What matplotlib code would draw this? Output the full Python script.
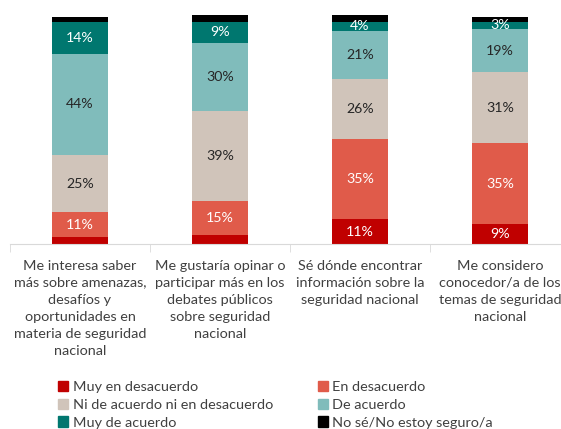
import numpy as np
import matplotlib.pyplot as plt
from matplotlib.patches import Patch

plt.rcParams['font.family'] = ['Lato', 'DejaVu Sans']

categorias = [
    "Me interesa saber\nmás sobre amenazas,\ndesafíos y\noportunidades en\nmateria de seguridad\nnacional",
    "Me gustaría opinar o\nparticipar más en los\ndebates públicos\nsobre seguridad\nnacional",
    "Sé dónde encontrar\ninformación sobre la\nseguridad nacional",
    "Me considero\nconocedor/a de los\ntemas de seguridad\nnacional",
]

series = [
    "Muy en desacuerdo",
    "En desacuerdo",
    "Ni de acuerdo ni en desacuerdo",
    "De acuerdo",
    "Muy de acuerdo",
    "No sé/No estoy seguro/a",
]

muy_desacuerdo = [3, 4, 11, 9]
en_desacuerdo = [11, 15, 35, 35]
ni_ni = [25, 39, 26, 31]
de_acuerdo = [44, 30, 21, 19]
muy_acuerdo = [14, 9, 4, 3]
no_se = [2, 3, 3, 2]

colores = ['#C00000', '#E05B4A', '#D0C4BA', '#80BCBB', '#00776F', '#000000']
color_texto = ['white', 'white', '#262626', '#262626', 'white', None]

valores = [muy_desacuerdo, en_desacuerdo, ni_ni, de_acuerdo, muy_acuerdo, no_se]

fig = plt.figure(figsize=(5.61, 4.29), dpi=100)
ax = fig.add_axes([10 / 561, 1 - 244.3 / 429, 560 / 561, (244.3 - 15) / 429])

x = np.arange(len(categorias))
base = np.zeros(len(categorias))
for serie, vals, col, tc in zip(series, valores, colores, color_texto):
    vals = np.array(vals)
    ax.bar(x, vals, 0.4, bottom=base, color=col, label=serie)
    if tc is not None:
        for xi, b, v in zip(x, base, vals):
            # los segmentos muy chicos de "Muy en desacuerdo" no llevan etiqueta
            if serie == "Muy en desacuerdo" and v < 5:
                continue
            ax.text(xi, b + v / 2, f"{v}%", ha='center', va='center',
                    color=tc, fontsize=10.2)
    base += vals

ax.set_xlim(-0.5, 3.5)
ax.set_ylim(0, 100)
ax.set_yticks([])
for s in ['top', 'right', 'left']:
    ax.spines[s].set_visible(False)
ax.spines['bottom'].set_color('#d9d9d9')

ax.set_xticks(x)
ax.set_xticklabels(categorias, fontsize=10.4, color='#404040', linespacing=1.5)
ax.tick_params(axis='x', length=0, pad=11)
ax.set_xticks(np.arange(-0.5, 4, 1), minor=True)
ax.tick_params(axis='x', which='minor', length=6, color='#d9d9d9')

handles = [Patch(color=c) for c in colores]
orden = [0, 2, 4, 1, 3, 5]
fig.legend([handles[i] for i in orden], [series[i] for i in orden],
           ncol=2, loc='upper left', bbox_to_anchor=(51 / 561, 1 - 374 / 429),
           frameon=False, fontsize=10.4, labelcolor='#404040',
           handlelength=0.7, handleheight=0.7, handletextpad=0.3,
           columnspacing=3.1, labelspacing=0.38, borderpad=0)

fig.savefig('out.png', dpi=100)
